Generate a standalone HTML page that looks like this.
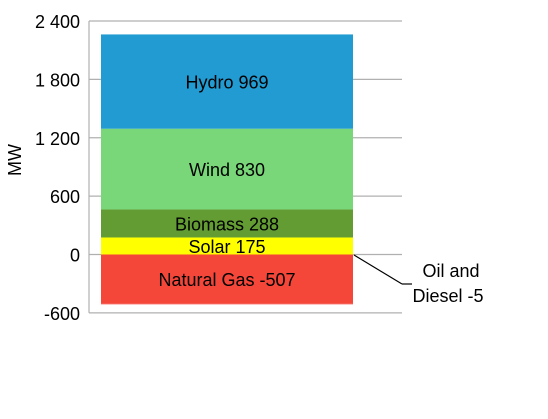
<!DOCTYPE html>
<html><head><meta charset="utf-8"><style>
body{margin:0;background:#fff;}
svg text{font-family:"Liberation Sans",sans-serif;}
</style></head><body>
<svg width="548" height="414">
<g id="grid"></g><g id="bars"></g><g id="labels"></g>
<text transform="translate(21,160) rotate(-90)" text-anchor="middle" font-size="18">MW</text>
<line x1="354" y1="255" x2="402" y2="284" stroke="#000" stroke-width="1.2"/>
<line x1="402" y1="284" x2="412" y2="284" stroke="#000" stroke-width="1.2"/>
<text x="451" y="277" text-anchor="middle" font-size="18">Oil and</text>
<text x="448" y="302" text-anchor="middle" font-size="18">Diesel -5</text>
</svg>
<script>
const ticks=[-600,0,600,1200,1800,2400];
const tickLabels=["-600","0","600","1 200","1 800","2 400"];
const names=["Solar","Biomass","Wind","Hydro"];
const posValues=[175,288,830,969];
const posColors=["#ffff00","#629c32","#79d679","#229bd2"];
const negNames=["Natural Gas","Oil and Diesel"];
const negValues=[-507,-5];
const negColors=["#f5463a","#f5463a"];
const ns="http://www.w3.org/2000/svg";
const y=v=>254.5-v*(233.5/2400);
const x0=101,x1=353;
function mk(t,a,p){const e=document.createElementNS(ns,t);for(const k in a)e.setAttribute(k,a[k]);p.appendChild(e);return e;}
const g=document.getElementById('grid'),b=document.getElementById('bars'),L=document.getElementById('labels');
ticks.forEach((t,i)=>{const l=mk('line',{x1:89,x2:402,y1:y(t),y2:y(t),stroke:'#b0b0b0','stroke-width':1.2},g);


const tx=mk('text',{x:80,y:y(t)+7,'text-anchor':'end','font-size':18},g);tx.textContent=tickLabels[i];

});
const ax=mk('line',{x1:89,x2:89,y1:y(2400),y2:y(-600),stroke:'#b0b0b0','stroke-width':1.2},g);


let c=0;
posValues.forEach((v,i)=>{const r=mk('rect',{x:x0,width:x1-x0,y:y(c+v),height:y(c)-y(c+v),fill:posColors[i]},b);


const t=mk('text',{x:(x0+x1)/2,y:(y(c)+y(c+v))/2+7,'text-anchor':'middle','font-size':18},L);t.textContent=names[i]+' '+v;


c+=v;});
c=0;
negValues.forEach((v,i)=>{const r=mk('rect',{x:x0,width:x1-x0,y:y(c),height:y(c+v)-y(c),fill:negColors[i]},b);


if(i===0){const t=mk('text',{x:(x0+x1)/2,y:(y(c)+y(c+v))/2+7,'text-anchor':'middle','font-size':18},L);t.textContent=negNames[i]+' '+v;

}
c+=v;});
</script>
</body></html>
